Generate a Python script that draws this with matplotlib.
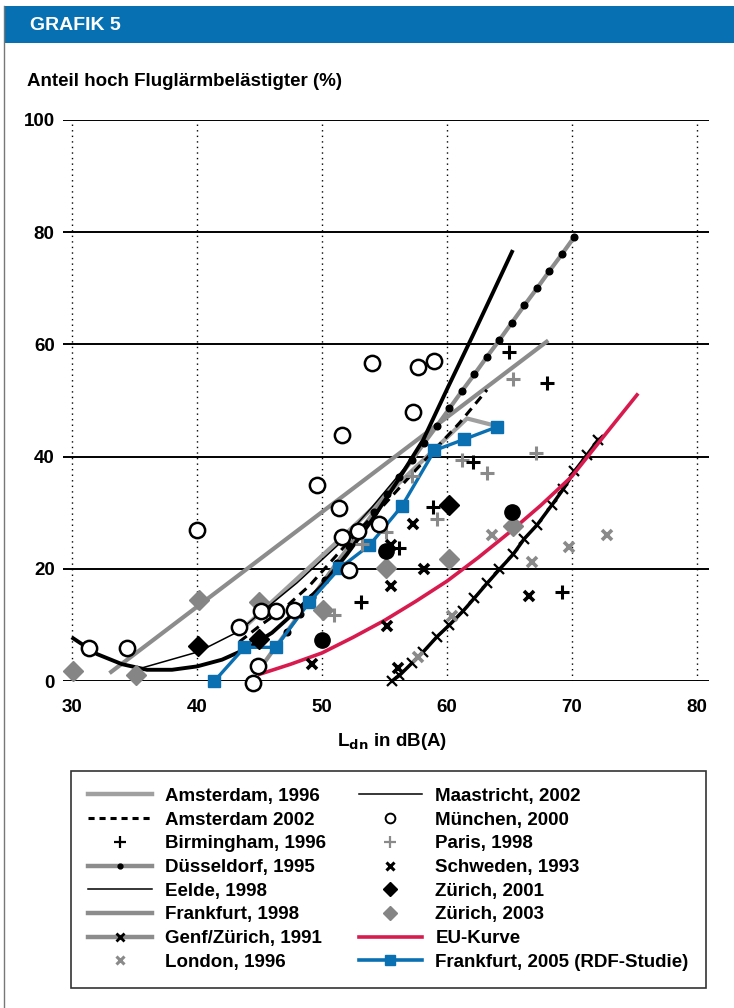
import matplotlib
matplotlib.use('Agg')
import matplotlib.pyplot as plt
from matplotlib import font_manager as fm
from matplotlib.lines import Line2D
from matplotlib.patches import Rectangle

# ---------------- data ----------------
frankfurt1998_x = [33.0, 68.1]
frankfurt1998_y = [1.4, 60.7]

amsterdam1996_x = [43.5, 51.4, 61.6, 63.7]
amsterdam1996_y = [9.0, 25.2, 46.8, 45.6]

amsterdam2002_x = [43.4, 45.0, 47.0, 49.0, 51.0, 53.0, 55.0, 57.0, 59.0, 61.0, 63.2]
amsterdam2002_y = [7.0, 9.8, 13.0, 17.0, 22.0, 27.0, 31.5, 36.4, 41.2, 46.0, 51.9]

maastricht_x = [30.1, 32, 34, 36, 38, 40, 42, 44, 46, 48, 50, 52, 54, 56, 58.1, 60, 62, 63.5, 65.2]
maastricht_y = [7.6, 4.8, 3.0, 2.0, 2.0, 2.6, 3.8, 5.8, 8.6, 12.6, 17.0, 22.6, 28.7, 35.5, 43.0, 52.0, 61.3, 68.4, 76.5]

eelde_x = [35.7, 40.1, 43.3, 45.0, 48.0, 51.4, 54.0, 57.0]
eelde_y = [2.4, 5.2, 8.8, 12.0, 17.5, 24.5, 31.0, 39.0]

duesseldorf_x = [44.9, 45.2, 46.2, 47.2, 48.2, 49.2, 50.2, 51.2, 52.2, 53.2, 54.2, 55.2, 56.2,
                 57.2, 58.2, 59.2, 60.2, 61.2, 62.2, 63.2, 64.2, 65.2, 66.2, 67.2, 68.2, 69.2, 70.2]
duesseldorf_y = [1.8, 2.7, 5.8, 8.8, 11.9, 14.9, 18.0, 21.1, 24.1, 27.2, 30.2, 33.3, 36.4,
                 39.4, 42.5, 45.5, 48.6, 51.7, 54.7, 57.8, 60.8, 63.9, 67.0, 70.0, 73.1, 76.1, 79.2]

genf_x = [55.6, 56.2, 57.2, 58.1, 59.2, 60.2, 61.3, 62.2, 63.2, 64.2, 65.3, 66.2, 67.2, 68.4, 69.3, 70.2, 71.2, 72.1]
genf_y = [0.0, 1.0, 3.2, 5.2, 7.9, 10.0, 12.5, 14.8, 17.4, 19.9, 22.6, 25.4, 27.8, 31.4, 34.2, 37.4, 40.3, 43.0]

eu_x = [45.0, 47.5, 50.0, 52.5, 55.0, 57.5, 60.0, 62.5, 65.0, 67.5, 70.0, 72.5, 75.2]
eu_y = [1.2, 3.0, 5.0, 7.8, 10.8, 14.2, 17.8, 22.0, 26.5, 31.3, 36.5, 43.5, 51.0]

frankfurt2005_x = [41.4, 43.8, 46.3, 49.0, 51.4, 53.8, 56.4, 59.0, 61.4, 64.0]
frankfurt2005_y = [0.0, 6.0, 6.0, 14.1, 20.1, 24.2, 31.2, 41.1, 43.1, 45.3]

muenchen_x = [31.4, 34.4, 40.0, 43.4, 44.5, 44.9, 45.1, 46.3, 47.8, 49.6, 51.4, 51.6, 51.6, 52.2, 52.9,
              54.0, 54.6, 57.3, 57.7, 59.0]
muenchen_y = [5.9, 5.9, 26.9, 9.6, -0.3, 2.7, 12.5, 12.5, 12.7, 34.9, 30.9, 25.6, 43.9, 19.7, 26.8,
              56.7, 27.9, 48.0, 55.9, 57.0]

filled_x = [50.0, 55.1, 65.2]
filled_y = [7.3, 23.2, 30.1]

paris_x = [65.3, 67.1, 63.2, 61.2, 57.2, 59.2, 55.1, 53.2, 51.0]
paris_y = [53.9, 40.6, 37.0, 39.4, 36.5, 28.8, 26.6, 24.5, 11.8]

birmingham_x = [65.0, 68.0, 62.1, 58.9, 56.2, 53.1, 69.2]
birmingham_y = [58.6, 53.1, 39.1, 31.1, 23.7, 14.1, 15.9]

schweden_x = [57.3, 55.5, 55.5, 58.2, 55.2, 66.6, 56.1, 49.2]
schweden_y = [27.9, 24.2, 16.9, 19.9, 9.8, 15.2, 2.3, 3.0]

london_x = [63.6, 69.8, 66.8, 72.8, 60.4, 57.7]
london_y = [26.1, 23.9, 21.2, 26.1, 11.5, 4.3]

zuerich2001_x = [40.1, 45.0, 60.2]
zuerich2001_y = [6.2, 7.4, 31.4]

zuerich2003_x = [30.1, 35.1, 40.2, 45.0, 50.1, 55.1, 60.2, 65.3]
zuerich2003_y = [1.8, 1.1, 14.4, 14.1, 12.7, 20.1, 21.7, 27.6]

x_ticks = [30, 40, 50, 60, 70, 80]
y_ticks = [0, 20, 40, 60, 80, 100]

legend_labels = ['Amsterdam, 1996', 'Amsterdam 2002', 'Birmingham, 1996', 'Düsseldorf, 1995',
                 'Eelde, 1998', 'Frankfurt, 1998', 'Genf/Zürich, 1991', 'London, 1996',
                 'Maastricht, 2002', 'München, 2000', 'Paris, 1998', 'Schweden, 1993',
                 'Zürich, 2001', 'Zürich, 2003', 'EU-Kurve', 'Frankfurt, 2005 (RDF-Studie)']

# ---------------- style ----------------
names = {f.name for f in fm.fontManager.ttflist}
FONT = 'Liberation Sans' if 'Liberation Sans' in names else 'DejaVu Sans'
NARROW = 'Liberation Sans Narrow' if 'Liberation Sans Narrow' in names else FONT
plt.rcParams['font.family'] = [FONT, 'DejaVu Sans']
plt.rcParams['font.weight'] = 'bold'

GRAY = '#8c8c8c'
LGRAY = '#a0a0a0'
BLUE = '#0a70b2'
RED = '#d81b4e'

W, H = 734, 1008
fig = plt.figure(figsize=(W / 100, H / 100), dpi=100)

def fx(px):
    return px / W

def fy(py):
    return 1 - py / H

# header
fig.patches.append(Rectangle((fx(4), fy(43)), 1 - fx(4), (43 - 6) / H, transform=fig.transFigure,
                             facecolor='#0670b3', edgecolor='none'))
fig.text(fx(30), fy(25), 'GRAFIK 5', color='white', fontsize=14, fontweight='bold',
         family=[NARROW, 'DejaVu Sans'], va='center', ha='left')
fig.lines.append(Line2D([fx(4), fx(4)], [fy(6), 0], transform=fig.transFigure, color='#777777', lw=1))

ax = fig.add_axes([fx(63), fy(681), (709 - 63) / W, (681 - 120) / H])
xr = 646 / 12.5
ax.set_xlim(30 - 9 / 12.5, 30 - 9 / 12.5 + xr)
ax.set_ylim(0, 100)
for s in ax.spines.values():
    s.set_visible(False)
ax.set_xticks(x_ticks)
ax.set_yticks(y_ticks)
ax.tick_params(length=0, labelsize=13.5)
ax.tick_params(axis='x', pad=13)
ax.tick_params(axis='y', pad=6)
ax.xaxis.grid(True, color='black', lw=1, linestyle=(0, (1, 3)))
ax.yaxis.grid(True, color='black', lw=1.4)
ax.set_axisbelow(True)

fig.text(fx(27), fy(82), 'Anteil hoch Fluglärmbelästigter (%)', fontsize=13.5, fontweight='bold',
         va='center', ha='left')
fig.text(fx(392), fy(741), r'L$_{\mathbf{dn}}$ in dB(A)', fontsize=13.5, fontweight='bold',
         va='center', ha='center')

kw = dict(clip_on=False)
# lines
ax.plot(frankfurt1998_x, frankfurt1998_y, color=GRAY, lw=3, solid_capstyle='butt', zorder=3, **kw)
ax.plot(amsterdam1996_x, amsterdam1996_y, color=LGRAY, lw=3, solid_capstyle='butt', zorder=3, **kw)
ax.plot(duesseldorf_x, duesseldorf_y, color=GRAY, lw=3, marker='o', ms=4.8, mfc='black', mec='black',
        markevery=slice(1, None), solid_capstyle='butt', zorder=3, **kw)
ax.plot(maastricht_x, maastricht_y, color='black', lw=2.8, zorder=4, **kw)
ax.plot(eelde_x, eelde_y, color='black', lw=1.1, zorder=4, **kw)
ax.plot(amsterdam2002_x, amsterdam2002_y, color='black', lw=2.2, dashes=(3, 2), zorder=4, **kw)
ax.plot(genf_x, genf_y, color='black', lw=2.5, marker='x', ms=7, mew=1.6, zorder=4, **kw)
ax.plot(eu_x, eu_y, color=RED, lw=2.6, zorder=4, **kw)
ax.plot(frankfurt2005_x, frankfurt2005_y, color=BLUE, lw=2.4, marker='s', ms=8, mfc=BLUE, mec=BLUE,
        zorder=5, **kw)
# scatter series
ax.plot(paris_x, paris_y, ls='none', marker='+', ms=10, mew=2.2, color='#8a8a8a', zorder=6, **kw)
ax.plot(birmingham_x, birmingham_y, ls='none', marker='+', ms=10, mew=2.2, color='black', zorder=6, **kw)
ax.plot(london_x, london_y, ls='none', marker='x', ms=7, mew=2.6, color='#8a8a8a', zorder=6, **kw)
ax.plot(schweden_x, schweden_y, ls='none', marker='x', ms=7, mew=2.6, color='black', zorder=6, **kw)
ax.plot(zuerich2003_x, zuerich2003_y, ls='none', marker='D', ms=10.5, color='#858585', mec='#858585',
        zorder=6, **kw)
ax.plot(zuerich2001_x, zuerich2001_y, ls='none', marker='D', ms=10.5, color='black', zorder=6, **kw)
ax.plot(filled_x, filled_y, ls='none', marker='o', ms=11, color='black', zorder=6, **kw)
ax.plot(muenchen_x, muenchen_y, ls='none', marker='o', ms=11, mfc='white', mec='black', mew=1.8,
        zorder=7, **kw)

# legend proxies
def ln(**k):
    return Line2D([], [], **k)

handles = [
    ln(color=LGRAY, lw=3.2),
    ln(color='black', lw=2.2, dashes=(2, 1.6)),
    ln(ls='none', marker='+', ms=8, mew=1.6, color='black'),
    ln(color=GRAY, lw=3.2, marker='o', ms=3.5, mfc='black', mec='black'),
    ln(color='black', lw=1.1),
    ln(color=GRAY, lw=3.2),
    ln(color=GRAY, lw=3.2, marker='x', ms=5.5, mew=2, mec='black'),
    ln(ls='none', marker='x', ms=5.5, mew=2.2, color='#8a8a8a'),
    ln(color='black', lw=1.1),
    ln(ls='none', marker='o', ms=7, mfc='white', mec='black', mew=1.4),
    ln(ls='none', marker='+', ms=8, mew=1.6, color='#8a8a8a'),
    ln(ls='none', marker='x', ms=5.5, mew=2.2, color='black'),
    ln(ls='none', marker='D', ms=7, color='black'),
    ln(ls='none', marker='D', ms=7, color='#858585'),
    ln(color=RED, lw=2.6),
    ln(color=BLUE, lw=2.6, marker='s', ms=7, mfc=BLUE, mec=BLUE),
]
leg = fig.legend(handles, legend_labels, ncol=2, loc='upper left',
                 bbox_to_anchor=(fx(71), fy(771)), bbox_transform=fig.transFigure,
                 frameon=True, fancybox=False, edgecolor='black', fontsize=13.5,
                 handlelength=3.4, handletextpad=0.7, columnspacing=1.75, labelspacing=0.35,
                 borderpad=0.9, borderaxespad=0)
leg.get_frame().set_linewidth(1.2)
for t in leg.get_texts():
    t.set_fontweight('bold')

fig.savefig('out.png', dpi=100)
